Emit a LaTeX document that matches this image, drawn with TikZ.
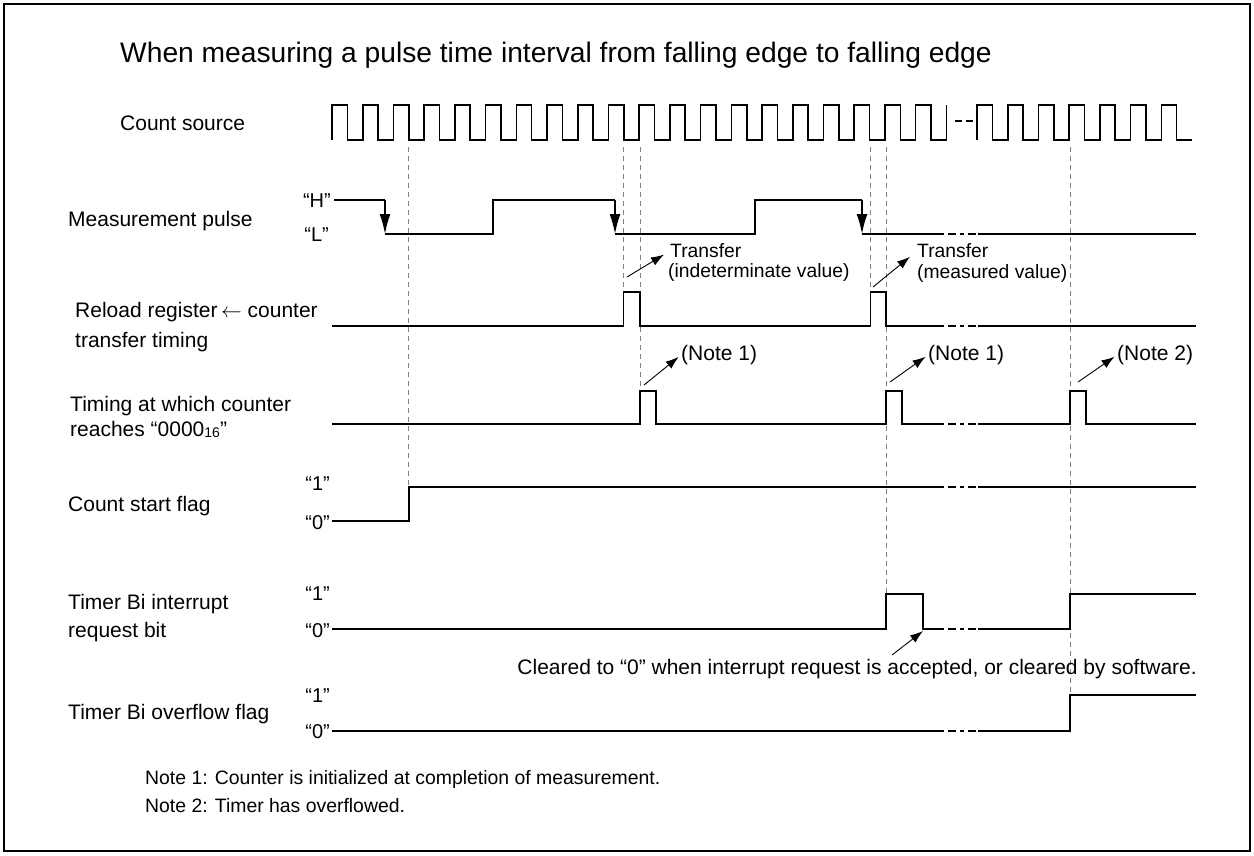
\documentclass[tikz,border=0pt]{standalone}
\usepackage{fontspec}
\setmainfont{Liberation Sans}
\usetikzlibrary{arrows.meta}

\newcommand{\fs}[1]{\fontsize{#1}{#1}\selectfont}

\begin{document}
\begin{tikzpicture}[x=1pt,y=-1pt,
  wave/.style={line width=1.6pt},
  guide/.style={gray,line width=0.7pt,dash pattern=on 5pt off 4pt},
  brk/.style={line width=1.6pt,dash pattern=on 8pt off 4pt on 4pt off 4pt},
  fall/.style={line width=1.6pt,-{Latex[length=20pt,width=11pt]}},
  ptr/.style={line width=0.9pt,-{Latex[length=13pt,width=9pt]}},
  lbl/.style={anchor=base west,inner sep=0pt,font=\fs{21}},
  lvl/.style={anchor=base east,inner sep=0pt,font=\fs{20}},
  txt/.style={anchor=west,inner sep=0pt,font=\fs{19.3}},
  note/.style={anchor=west,inner sep=0pt,font=\fs{21}}]
\useasboundingbox (0,0) rectangle (1254,855);
\draw[line width=1.6pt] (4,4) rectangle (1250,851);

% labels
\node[lbl,font=\fs{28.2}] (title) at (120,62) {When measuring a pulse time interval from falling edge to falling edge};
\node[lbl] (cs) at (120,130.5) {Count source};
\node[lbl] (mp) at (68,226.5) {Measurement pulse};
\node[lbl] (rl1) at (75,317) {Reload register\,$\leftarrow$ counter};
\node[lbl] (rl2) at (75,347) {transfer timing};
\node[lbl] (tz1) at (70,411) {Timing at which counter};
\node[lbl] (tz2) at (70,436) {reaches “0000\raisebox{-1.5pt}{\fs{14}16}”};
\node[lbl] (sf) at (68,511) {Count start flag};
\node[lbl] (ir1) at (68,609.5) {Timer Bi interrupt};
\node[lbl] (ir2) at (68,637.5) {request bit};
\node[lbl] (of) at (68,719.5) {Timer Bi overflow flag};

\node[lvl] (mh) at (331,207) {“H”};
\node[lvl] (ml) at (329,241) {“L”};
\node[lvl] (sf1) at (330,490) {“1”};
\node[lvl] (sf0) at (330,529) {“0”};
\node[lvl] (ir1h) at (330,600) {“1”};
\node[lvl] (ir0) at (330,637) {“0”};
\node[lvl] (of1) at (330,702) {“1”};
\node[lvl] (of0) at (330,738) {“0”};

% guide lines
\draw[guide] (408.7,147) -- (408.7,487);
\draw[guide] (623.5,147) -- (623.5,292);
\draw[guide] (640,147) -- (640,391);
\draw[guide] (870.5,147) -- (870.5,292);
\draw[guide] (886,147) -- (886,594);
\draw[guide] (1070,147) -- (1070,695);

% count source
\draw[wave] (332,140) \foreach \k in {0,...,19}{ -- ++(0,-35) -- ++(15.36,0) -- ++(0,35) -- ++(15.36,0)} -- ++(0,-35);
\draw[line width=1.3pt,dash pattern=on 7pt off 4pt] (955,121) -- (973,121);
\draw[wave] (977,140) \foreach \k in {0,...,5}{ -- ++(0,-35) -- ++(15.36,0) -- ++(0,35) -- ++(15.36,0)}
  -- ++(0,-35) -- ++(15.36,0) -- ++(0,35) -- (1192,140);

% measurement pulse
\draw[wave] (334,200) -- (385,200);
\draw[fall] (385,200) -- (385,234);
\draw[wave] (385,234) -- (493,234) -- (493,200) -- (615,200);
\draw[fall] (615,200) -- (615,234);
\draw[wave] (615,234) -- (755,234) -- (755,200) -- (862,200);
\draw[fall] (862,200) -- (862,234);
\draw[wave] (862,234) -- (944,234);
\draw[brk] (948,234) -- (976,234);
\draw[wave] (978,234) -- (1196,234);

% reload register <- counter
\draw[wave] (332,326) -- (623.5,326) -- (623.5,292) -- (640,292) -- (640,326) -- (870.5,326)
  -- (870.5,292) -- (886,292) -- (886,326) -- (944,326);
\draw[brk] (948,326) -- (976,326);
\draw[wave] (978,326) -- (1196,326);

% counter reaches 0000
\draw[wave] (332,424) -- (640,424) -- (640,391) -- (656,391) -- (656,424) -- (886,424)
  -- (886,391) -- (902,391) -- (902,424) -- (944,424);
\draw[brk] (948,424) -- (976,424);
\draw[wave] (978,424) -- (1070,424) -- (1070,391) -- (1086,391) -- (1086,424) -- (1196,424);

% count start flag
\draw[wave] (332,521) -- (408.7,521) -- (408.7,487) -- (944,487);
\draw[brk] (948,487) -- (976,487);
\draw[wave] (978,487) -- (1196,487);

% interrupt request bit
\draw[wave] (332,629) -- (886,629) -- (886,594) -- (923,594) -- (923,629) -- (944,629);
\draw[brk] (948,629) -- (976,629);
\draw[wave] (978,629) -- (1070,629) -- (1070,594) -- (1196,594);

% overflow flag
\draw[wave] (332,731) -- (944,731);
\draw[brk] (948,731) -- (976,731);
\draw[wave] (978,731) -- (1070,731) -- (1070,695) -- (1196,695);

% transfer marks
\node[txt] (tr1) at (670,251) {Transfer};
\node[txt] (tv1) at (668,272) {(indeterminate value)};
\node[txt] (tr2) at (917,251) {Transfer};
\node[txt] (tv2) at (917,273) {(measured value)};
\coordinate (ta1) at (627,277);
\coordinate (ta2) at (873,287);
\draw[ptr,shorten >=7pt] (ta1) -- (tr1.west);
\draw[ptr,shorten >=9pt] (ta2) -- (tr2.west);

% notes on the pulses
\node[note] (n1a) at (681,355) {(Note 1)};
\node[note] (n1b) at (928,355) {(Note 1)};
\node[note] (n2) at (1117,355) {(Note 2)};
\coordinate (na1) at (644,385);
\coordinate (na2) at (890,382);
\coordinate (na3) at (1078,382);
\draw[ptr,shorten >=3pt] (na1) -- (n1a.west);
\draw[ptr,shorten >=3pt] (na2) -- (n1b.west);
\draw[ptr,shorten >=3pt] (na3) -- (n2.west);

% cleared
\node[anchor=base east,inner sep=0pt,font=\fs{21}] (clrtxt) at (1197,674.5) {Cleared to “0” when interrupt request is accepted, or cleared by software.};
\coordinate (clr) at (892,655);
\coordinate (irqdn) at (923,631);
\draw[ptr] (clr) -- (irqdn);

% footnotes
\node[lbl,font=\fs{19.4}] (ft1) at (145,784) {Note 1: Counter is initialized at completion of measurement.};
\node[lbl,font=\fs{19.4}] (ft2) at (145,812) {Note 2: Timer has overflowed.};
\end{tikzpicture}
\end{document}
